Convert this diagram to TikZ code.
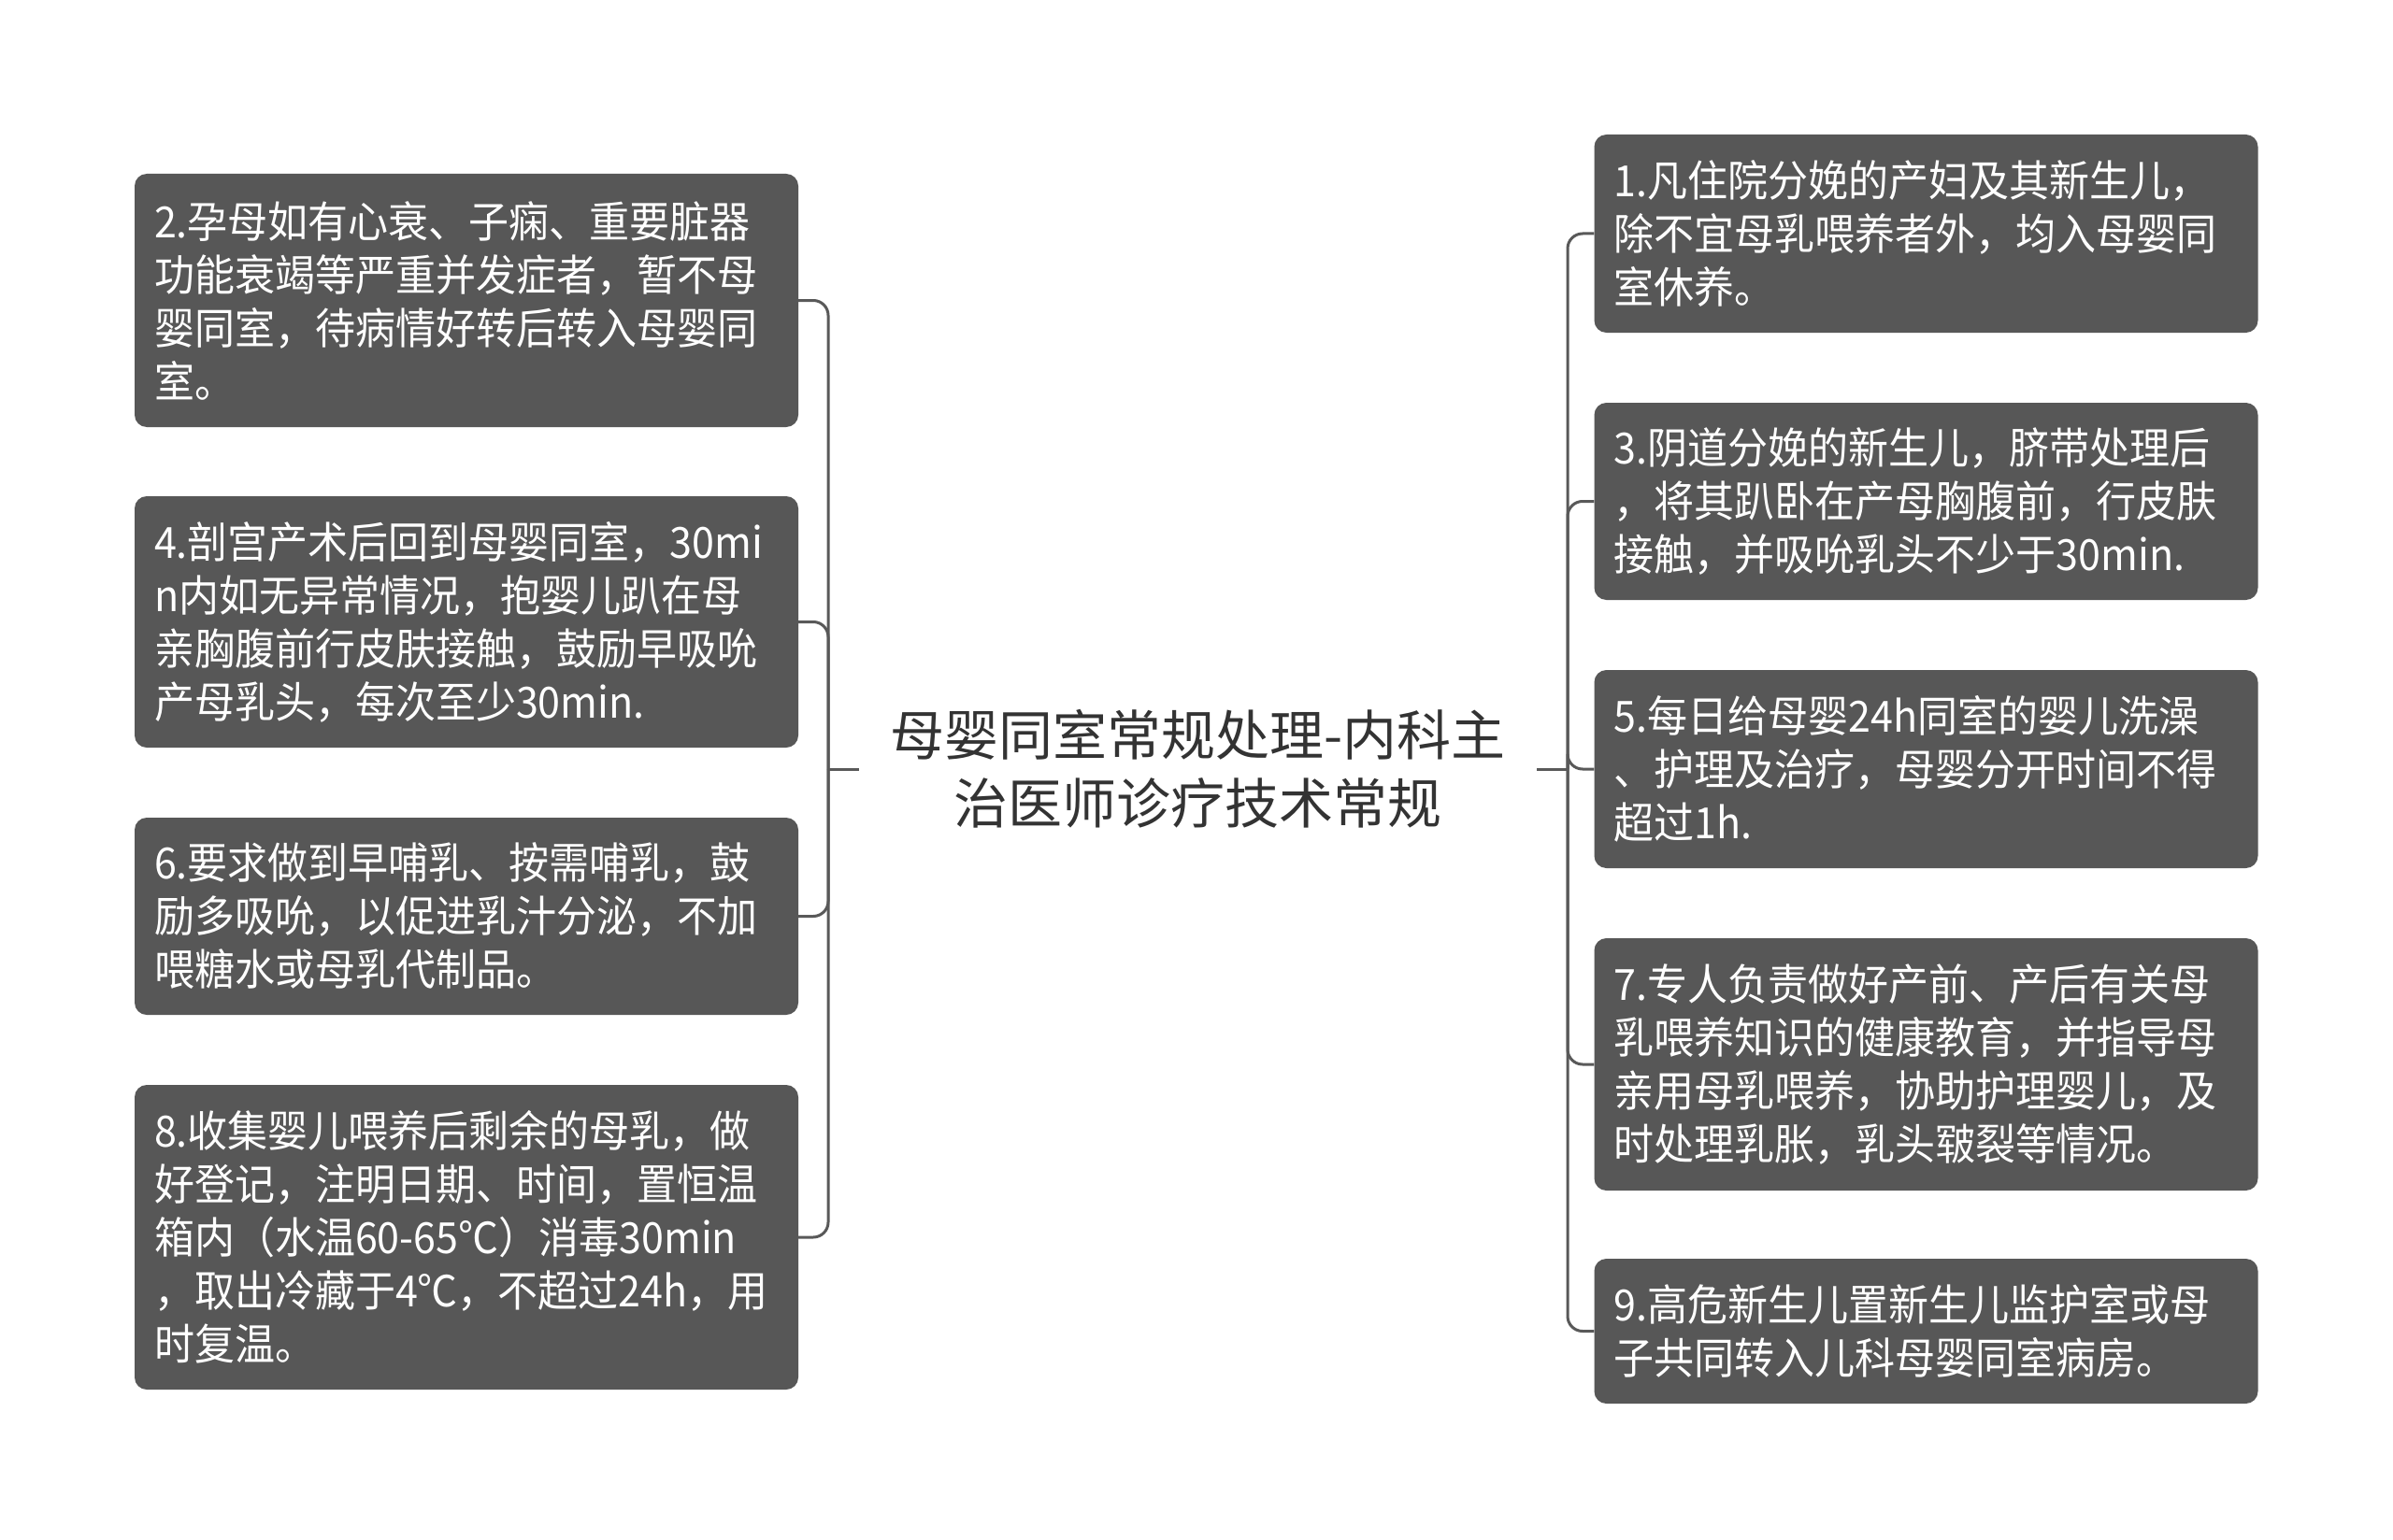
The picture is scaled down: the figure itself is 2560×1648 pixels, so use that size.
\documentclass[tikz,border=0pt]{standalone}
\usepackage{fontspec}
\setmainfont{Noto Sans CJK SC}
\newfontfamily\leaffont[FakeStretch=0.935]{Noto Sans CJK SC}
\definecolor{boxfill}{HTML}{575757}
\definecolor{linec}{HTML}{595959}
\definecolor{titlec}{HTML}{333333}
\tikzset{
  leaf/.style={fill=boxfill, rounded corners=13pt, text=white, align=left,
    text width=668pt, inner xsep=21pt, inner ysep=0pt, minimum width=710pt,
    font=\leaffont\fontsize{46}{57}\selectfont},
  conn/.style={draw=linec, line width=3pt, rounded corners=16pt},
  titlebox/.style={text=titlec, align=center, minimum width=725pt, inner sep=0pt,
    font=\fontsize{58}{73}\selectfont}
}
\begin{document}
\begin{tikzpicture}[x=1pt,y=-1pt]
\useasboundingbox[fill=white] (0,0) rectangle (2560,1648);
\node[titlebox] (title) at (1281.5,823) {母婴同室常规处理-内科主\\治医师诊疗技术常规};
% left boxes
\node[leaf, minimum height=271pt] (b2) at (499,321.5) {2.孕母如有心衰、子痫、重要脏器\\功能衰竭等严重并发症者，暂不母\\婴同室，待病情好转后转入母婴同\\室。};
\node[leaf, minimum height=269pt] (b4) at (499,665.5) {4.剖宫产术后回到母婴同室，30mi\\n内如无异常情况，抱婴儿趴在母\\亲胸腹前行皮肤接触，鼓励早吸吮\\产母乳头，每次至少30min.};
\node[leaf, minimum height=211pt] (b6) at (499,980.5) {6.要求做到早哺乳、按需哺乳，鼓\\励多吸吮，以促进乳汁分泌，不加\\喂糖水或母乳代制品。};
\node[leaf, minimum height=326pt] (b8) at (499,1324) {8.收集婴儿喂养后剩余的母乳，做\\好登记，注明日期、时间，置恒温\\箱内（水温60-65℃）消毒30min\\，取出冷藏于4℃，不超过24h，用\\时复温。};
% right boxes
\node[leaf, minimum height=212pt] (b1) at (2060.5,250) {1.凡住院分娩的产妇及其新生儿，\\除不宜母乳喂养者外，均入母婴同\\室休养。};
\node[leaf, minimum height=211pt] (b3) at (2060.5,536.5) {3.阴道分娩的新生儿，脐带处理后\\，将其趴卧在产母胸腹前，行皮肤\\接触，并吸吮乳头不少于30min.};
\node[leaf, minimum height=212pt] (b5) at (2060.5,823) {5.每日给母婴24h同室的婴儿洗澡\\、护理及治疗，母婴分开时间不得\\超过1h.};
\node[leaf, minimum height=270pt] (b7) at (2060.5,1139) {7.专人负责做好产前、产后有关母\\乳喂养知识的健康教育，并指导母\\亲用母乳喂养，协助护理婴儿，及\\时处理乳胀，乳头皲裂等情况。};
\node[leaf, minimum height=155pt] (b9) at (2060.5,1424.5) {9.高危新生儿置新生儿监护室或母\\子共同转入儿科母婴同室病房。};
% connectors
\coordinate (L) at (886,823);
\coordinate (R) at (1677,823);
\draw[conn] (title.west) -- (L);
\draw[conn] (title.east) -- (R);
\foreach \b in {b2,b4,b6,b8} \draw[conn] (L) |- (\b.east);
\foreach \b in {b1,b3,b5,b7,b9} \draw[conn] (R) |- (\b.west);
\end{tikzpicture}
\end{document}
